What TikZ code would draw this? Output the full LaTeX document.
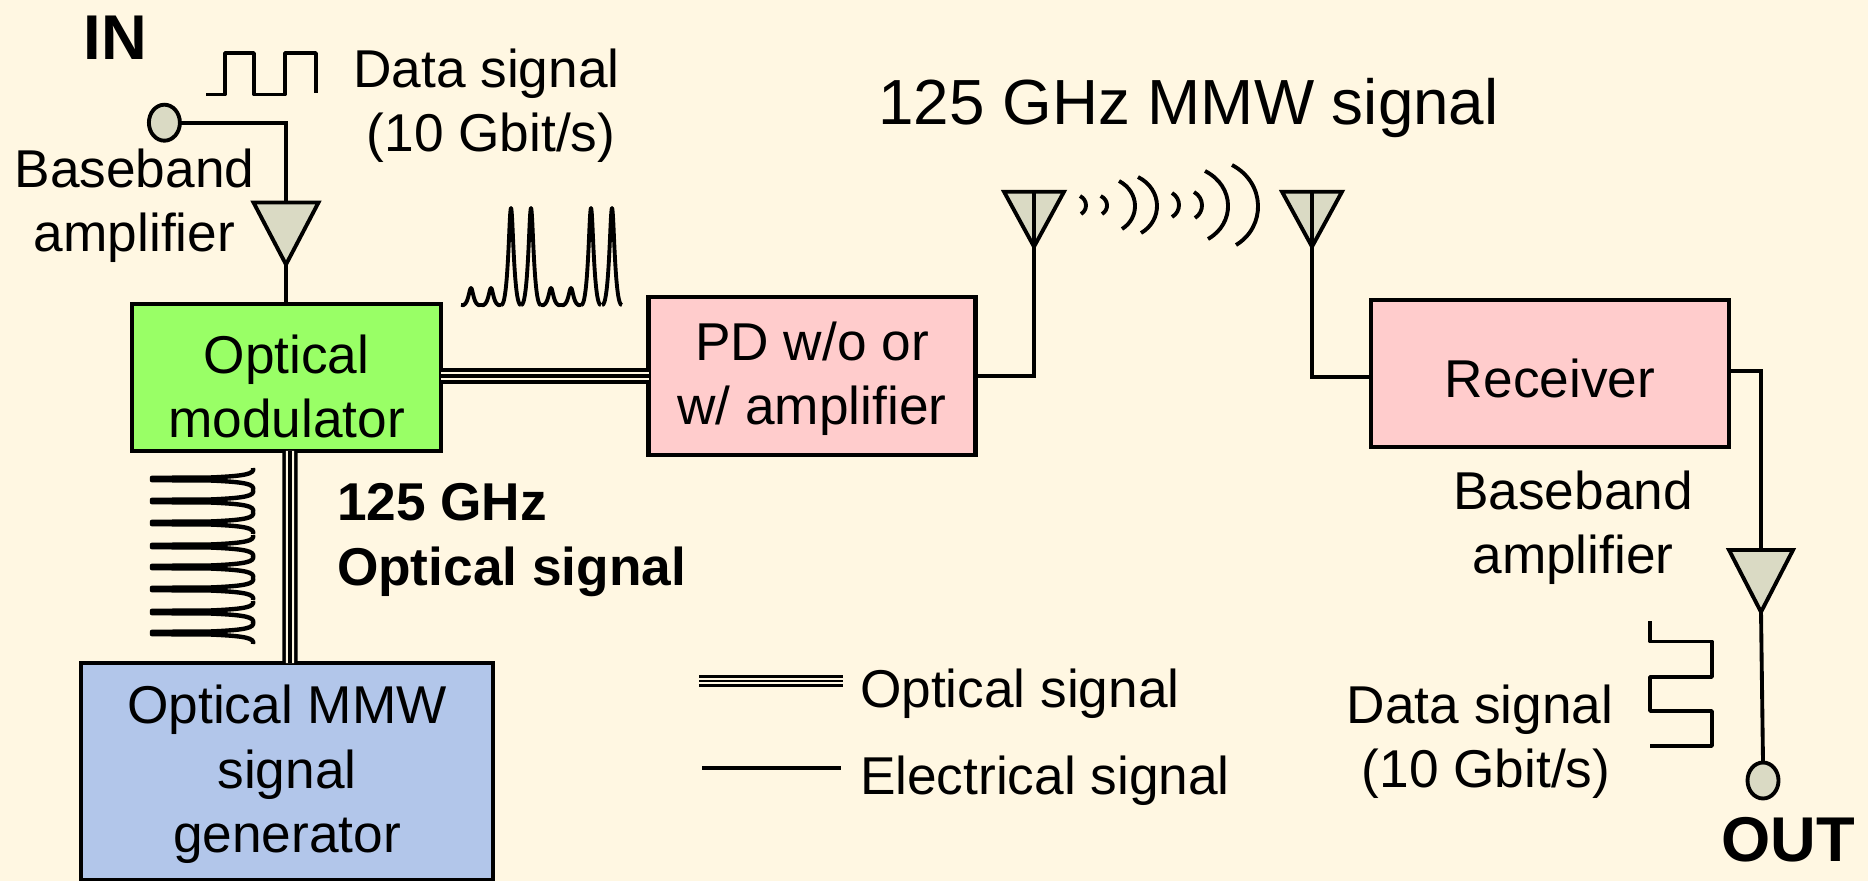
\documentclass[tikz,border=0pt]{standalone}
\usepackage{fontspec}
\setmainfont{Liberation Sans}
\usetikzlibrary{shapes.geometric}
\definecolor{paper}{HTML}{FFF7E2}
\definecolor{modgreen}{HTML}{99FF66}
\definecolor{blockpink}{HTML}{FFCCCC}
\definecolor{genblue}{HTML}{B2C6EA}
\definecolor{ampgrey}{HTML}{DADAC4}
\begin{document}
\begin{tikzpicture}[
 every node/.style={font=\fontsize{15.15}{18.3}\selectfont, align=center, inner sep=0pt, outer sep=0pt},
 block/.style={shape=rectangle, draw, line width=1.2pt},
 ampl/.style={shape=isosceles triangle, isosceles triangle stretches, shape border rotate=-90, draw, fill=ampgrey, line width=1.1pt, anchor=apex},
 port/.style={shape=ellipse, draw, fill=ampgrey, line width=1.1pt, minimum width=0.31cm, minimum height=0.36cm},
 elec/.style={line width=1.1pt, line join=miter},
 optic/.style={line width=4.4pt, postaction={draw, paper, line width=2.4pt}, postaction={draw, black, line width=1pt}},
 opticleg/.style={line width=3.4pt, postaction={draw, paper, line width=1.8pt}, postaction={draw, black, line width=0.8pt}},
 sketch/.style={line width=1pt, line join=round},
 peak/.style={line width=1.1pt, line join=round}]

\useasboundingbox (0,0) rectangle (18.68,-8.81);
\fill[paper] (0,0) rectangle (18.68,-8.81);

\path (2.865,-3.775) node (mod) [block, fill=modgreen, minimum width=3.09cm, minimum height=1.47cm, text height=1.2cm, text depth=0pt] {Optical\\modulator};
\path (8.12,-3.76) node (pd) [block, fill=blockpink, minimum width=3.27cm, minimum height=1.58cm, text depth=0.05cm] {PD w/o or\\w/ amplifier};
\path (15.50,-3.735) node (rx) [block, fill=blockpink, minimum width=3.58cm, minimum height=1.47cm, text height=0.477cm, text depth=0pt] {Receiver};
\path (2.87,-7.715) node (gen) [block, fill=genblue, minimum width=4.12cm, minimum height=2.17cm, text depth=0.05cm] {Optical MMW\\signal\\generator};

\path (1.644,-1.227) node (inport) [port] {};
\path (2.86,-2.645) node (ampin) [ampl, minimum width=0.65cm, minimum height=0.62cm] {};
\path (10.34,-2.467) node (txant) [ampl, minimum width=0.60cm, minimum height=0.55cm] {};
\path (13.12,-2.467) node (rxant) [ampl, minimum width=0.60cm, minimum height=0.55cm] {};
\path (17.61,-6.12) node (ampout) [ampl, minimum width=0.64cm, minimum height=0.62cm] {};
\path (17.63,-7.805) node (outport) [port] {};

\path (1.155,-0.38) node (intext) [font=\fontsize{18}{20}\selectfont\bfseries] {IN};
\path (17.88,-8.40) node (outtext) [font=\fontsize{18}{20}\selectfont\bfseries] {OUT};
\path (4.865,-1.055) node (dataintext) {Data signal\\\hspace*{0.09cm}(10 Gbit/s)};
\path (1.345,-2.06) node (ampintext) {Baseband\\amplifier};
\path (11.885,-1.085) node (mmwtext) [font=\fontsize{18.15}{20}\selectfont] {125 GHz MMW signal};
\path (3.37,-5.40) node (opttext) [anchor=west, align=left, font=\fontsize{15.15}{18.3}\selectfont\bfseries] {125 GHz\\Optical signal};
\path (15.73,-5.28) node (ampouttext) {Baseband\\amplifier};
\path (14.80,-7.415) node (dataouttext) {Data signal\\\hspace*{0.12cm}(10 Gbit/s)};

% legend
\coordinate (leg1a) at (6.99,-6.81);
\coordinate (leg1b) at (8.43,-6.81);
\coordinate (leg2a) at (7.02,-7.68);
\coordinate (leg2b) at (8.41,-7.68);
\path (8.60,-6.94) node (leg1text) [anchor=west] {Optical signal};
\path (8.60,-7.81) node (leg2text) [anchor=west] {Electrical signal};
\draw[opticleg] (leg1a) -- (leg1b);
\draw[elec] (leg2a) -- (leg2b);

% connectors
\coordinate (rxin) at (13.69,-3.77);
\coordinate (rxout) at (17.29,-3.71);
\draw[elec] (inport.east) -| (ampin.lower side);
\draw[elec] (ampin.apex) -- (ampin.apex |- mod.north);
\draw[optic] (mod.east |- pd.west) -- (pd.west);
\draw[optic] ([xshift=0.035cm]mod.south) -- ([xshift=0.03cm]gen.north);
\draw[elec] (pd.east) -| (txant.apex);
\draw[elec] (txant.lower side) -- (txant.apex);
\draw[elec] (rxant.lower side) -- (rxant.apex);
\draw[elec] (rxant.apex) |- (rxin);
\draw[elec] (rxout) -| (ampout.lower side);
\draw[elec] (ampout.apex) -- (outport.north);

% data pulses
\draw[sketch] (2.06,-0.945) -- (2.25,-0.945) -- (2.25,-0.53) -- (2.54,-0.53) -- (2.54,-0.945) -- (2.85,-0.945) -- (2.85,-0.53) -- (3.16,-0.53) -- (3.16,-0.93);
\draw[sketch] (16.50,-6.21) -- (16.50,-6.415) -- (17.12,-6.415) -- (17.12,-6.77) -- (16.50,-6.77) -- (16.50,-7.11) -- (17.12,-7.11) -- (17.12,-7.46) -- (16.50,-7.46);

% optical spectrum
\foreach \x/\h in {4.71/2.88, 4.91/2.88, 5.11/2.08, 5.31/2.08, 5.51/2.88, 5.71/2.88, 5.91/2.08, 6.12/2.08}
 \draw[peak] (\x-0.10,-3.05) .. controls (\x-0.025,-3.08) and (\x-0.02,-\h) .. (\x,-\h) .. controls (\x+0.02,-\h) and (\x+0.025,-3.08) .. (\x+0.10,-3.05);

% comb in front of the modulator
\foreach \y in {4.79, 5.01, 5.23, 5.46, 5.67, 5.89, 6.12, 6.33}
 \draw[peak, line width=1.25pt] (2.53,-\y+0.11) .. controls (2.55,-\y+0.05) and (2.45,-\y+0.03) .. (2.1,-\y+0.015) -- (1.52,-\y+0.012) -- (1.52,-\y-0.012) -- (2.1,-\y-0.015) .. controls (2.45,-\y-0.03) and (2.55,-\y-0.05) .. (2.53,-\y-0.11);

% waves between the antennas
\foreach \a/\b/\c/\d/\e/\f/\g in {10.80/1.96/10.878/2.05/10.81/2.14/0.05, 11.007/1.96/11.089/2.05/11.02/2.14/0.05, 11.19/1.81/11.398/2.05/11.22/2.29/0.13, 11.38/1.77/11.628/2.05/11.41/2.33/0.155, 11.72/1.93/11.813/2.05/11.72/2.17/0.066, 11.94/1.92/12.045/2.05/11.95/2.18/0.07, 12.05/1.71/12.352/2.05/12.08/2.39/0.187, 12.32/1.65/12.66/2.05/12.36/2.45/0.22}
 \draw[sketch, line width=1.1pt] (\a,-\b) .. controls (\c,-\d+\g) and (\c,-\d-\g) .. (\e,-\f);

\end{tikzpicture}
\end{document}
